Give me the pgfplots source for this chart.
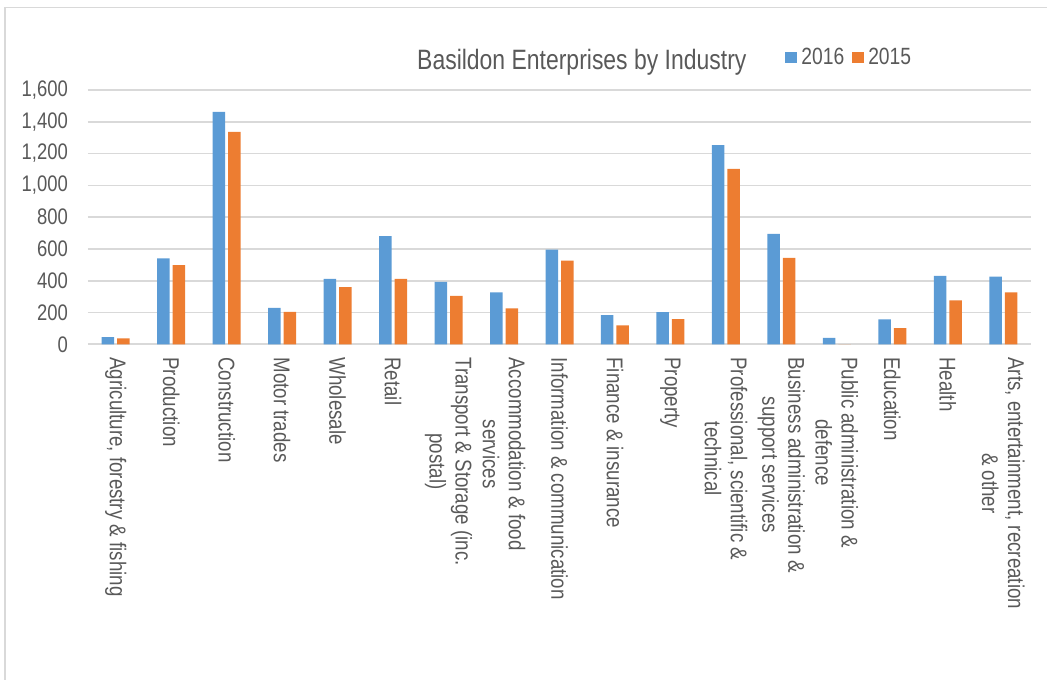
\documentclass[border=0pt]{standalone}
\usepackage{fontspec}
\setmainfont{Liberation Sans}[FakeStretch=0.82]
\usepackage{pgfplots}
\pgfplotsset{compat=1.18}
\definecolor{textgray}{HTML}{595959}
\definecolor{gridgray}{HTML}{D9D9D9}
\definecolor{bordergray}{HTML}{D9D9D9}
\definecolor{cblue}{HTML}{5B9BD5}
\definecolor{corange}{HTML}{ED7D31}
\begin{document}
\begin{tikzpicture}
\path[use as bounding box] (0,0) rectangle (1047pt,680pt);
\draw[color=bordergray, line width=1.5pt] (5pt,0) -- (5pt,672.5pt) -- (1048pt,672.5pt);
\node[anchor=base west, font=\fontsize{28}{30}\selectfont, text=textgray, inner sep=0pt] at (417pt,610.7pt) {Basildon Enterprises by Industry};
\begin{axis}[
  at={(88pt,335.7pt)}, anchor=south west,
  scale only axis, width=943pt, height=254.3pt,
  ybar=3pt, bar width=12.5pt,
  xmin=-0.5, xmax=16.5, ymin=0, ymax=1600,
  ytick={0,200,...,1600},
  xtick={0,...,16},
  xticklabels={
    {Agriculture, forestry \& fishing},
    {Production},
    {Construction},
    {Motor trades},
    {Wholesale},
    {Retail},
    {Transport \& Storage (inc.\\postal)},
    {Accommodation \& food\\services},
    {Information \& communication},
    {Finance \& insurance},
    {Property},
    {Professional, scientific \&\\technical},
    {Business administration \&\\support services},
    {Public administration \&\\defence},
    {Education},
    {Health},
    {Arts, entertainment, recreation\\\& other}},
  axis line style={draw=none},
  major tick length=0pt,
  ymajorgrids, grid style={color=gridgray, line width=1.6pt},
  scaled y ticks=false,
  /pgf/number format/1000 sep={,},
  /pgf/number format/assume math mode=true,
  y tick label style={font=\fontsize{22.5}{24}\selectfont, text=textgray, anchor=east, inner sep=0pt, xshift=-20pt},
  x tick label style={font=\fontsize{22.8}{26}\selectfont, text=textgray, rotate=-90, anchor=west, align=center, inner xsep=13pt, inner ysep=0pt},
  legend columns=2,
  legend image code/.code={\fill[#1] (0pt,-5.5pt) rectangle (12pt,5.5pt);},
  legend style={draw=none, fill=none, inner sep=0pt, outer sep=0pt,
    font=\fontsize{23.5}{26}\selectfont, text=textgray,
    nodes={inner xsep=4.5pt, inner ysep=2pt},
    /tikz/every even column/.append style={column sep=3pt},
    at={(0.739,1.129)}, anchor=west},
]
\addplot[fill=cblue, draw=none] coordinates {
(0,45) (1,541) (2,1463) (3,229) (4,411) (5,681) (6,392) (7,327) (8,595) (9,184) (10,203) (11,1253) (12,694) (13,40) (14,157) (15,431) (16,425)};
\addlegendentry{2016}
\addplot[fill=corange, draw=none] coordinates {
(0,38) (1,498) (2,1337) (3,204) (4,360) (5,411) (6,304) (7,226) (8,526) (9,119) (10,159) (11,1103) (12,543) (13,0) (14,102) (15,277) (16,327)};
\addlegendentry{2015}
\end{axis}
\end{tikzpicture}
\end{document}
